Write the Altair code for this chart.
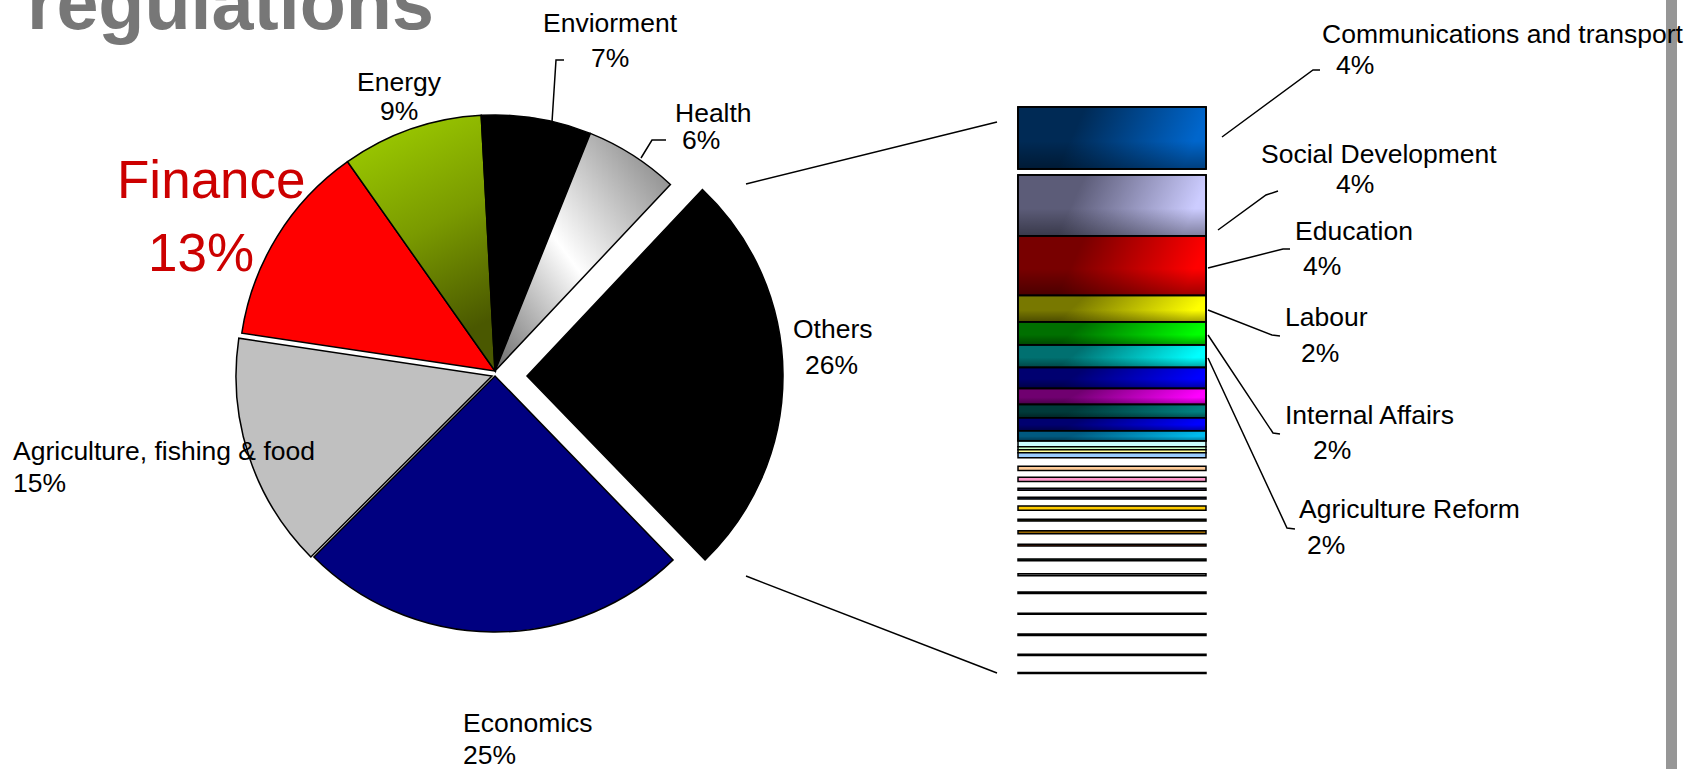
import math
import altair as alt
import pandas as pd

W, H = 1695, 769
FONT = "Liberation Sans"

# ---------------- data ----------------
pie_categories = ["Others", "Economics", "Agriculture, fishing & food", "Finance",
                  "Energy", "Enviorment", "Health"]
pie_values = [26, 25, 15, 13, 9, 7, 6]

bar_categories = ["Communications and transport", "Social Development", "Education", "Labour",
                  "Internal Affairs", "Agriculture Reform"] + [f"Other {i}" for i in range(1, 25)]
bar_values = [4.13, 4.07, 3.97, 1.77, 1.53, 1.5, 1.4, 1.07, 0.87, 0.87, 0.67, 0.4, 0.2, 0.2, 0.33,
              0.28, 0.28, 0.13, 0.13, 0.28, 0.12, 0.2, 0.12, 0.12, 0.13, 0.1, 0.07, 0.1, 0.07, 0.07]
bar_labelled = 6  # first six segments carry a label

# ---------------- styles / layout ----------------
# pie
PIE_START_DEG = 43.25
PIE_R = 256
pie_centers = {"Others": (527, 376), "Economics": (495, 376),
               "Agriculture, fishing & food": (492, 376), "Finance": (495, 371),
               "Energy": (495, 371), "Enviorment": (495, 371), "Health": (495, 371)}


def lin_grad(stops, x1=0, y1=0, x2=1, y2=0):
    return alt.Gradient(gradient="linear", x1=x1, y1=y1, x2=x2, y2=y2,
                        stops=[alt.GradientStop(color=c, offset=o) for o, c in stops])


pie_fills = {"Others": "#000000", "Economics": "#000080",
             "Agriculture, fishing & food": "#c0c0c0", "Finance": "#ff0000",
             "Energy": lin_grad([(0, "#a2d400"), (0.55, "#7a9a00"), (1, "#4a5800")], 0, 0, 0.3, 1),
             "Enviorment": "#000000",
             "Health": lin_grad([(0, "#6a6a6a"), (0.45, "#ffffff"), (1, "#7a7a7a")], 0, 1, 1, 0)}

# bar of pie
BAR_X0, BAR_X1 = 1018, 1206
BAR_TOP = 107
PX_PER_PCT = 15.0
bar_gap_px = [0, 6] + [0] * 13 + [8.5, 6.8, 6.8, 7, 7, 9, 9.6, 10.5, 13, 13, 16.3,
                                   19.75, 19.75, 18.75, 17]
bar_colors = ["#0066cc", "#ccccff", "#ff0000", "#ffff00", "#00ff00", "#00ffff", "#0000ff",
              "#ff00ff", "#008080", "#0000ff", "#00bbee", "#ccffff", "#ccffcc", "#ffff99",
              "#99ccff", "#ffcc99", "#ff99cc", "#4b3a6b", "#1f3a6b", "#ffcc00", "#333300",
              "#996600", "#993300", "#1f3f2f", "#8a8a8a", "#000033", "#000000", "#000000",
              "#000000", "#000000"]
bar_dark = ["#002a55", "#5c5c78", "#780000", "#787800", "#007000", "#007070", "#000070",
            "#700070", "#003a3a", "#000070", "#005a80"]

# label layout: (name x, name baseline, pct x, pct baseline)
pie_label_pos = {"Others": (793, 338, 805, 374), "Economics": (463, 732, 463, 764),
                 "Agriculture, fishing & food": (13, 460, 13, 492),
                 "Energy": (357, 91, 380, 120), "Enviorment": (543, 32, 591, 67),
                 "Health": (675, 122, 682, 149)}
finance_label_pos = (117, 198, 148, 271)
bar_label_pos = [(1322, 43, 1336, 74), (1261, 163, 1336, 193), (1295, 240, 1303, 275),
                 (1285, 326, 1301, 362), (1285, 424, 1313, 459), (1299, 518, 1307, 554)]

leader_lines = [
    [(552, 122), (556, 60), (564, 60)],
    [(641, 158), (652, 140), (666, 140)],
    [(1222, 137), (1313, 70), (1320, 70)],
    [(1218, 230), (1266, 195), (1278, 191)],
    [(1208, 268), (1283, 249), (1290, 249)],
    [(1208, 310), (1272, 335), (1280, 336)],
    [(1208, 335), (1273, 433), (1280, 434)],
    [(1208, 358), (1287, 528), (1295, 529)],
    [(746, 184), (997, 122)],
    [(746, 576), (997, 673)],
]

# ---------------- tables ----------------
pie_df = pd.DataFrame({"cat": pie_categories, "value": pie_values,
                       "order": list(range(len(pie_values)))})
pie_total = sum(pie_values)
start_rad = math.radians(PIE_START_DEG)
theta_scale = alt.Scale(domain=[0, pie_total], range=[start_rad, start_rad + 2 * math.pi])

rows = []
acc = 0.0
for i, (c, v) in enumerate(zip(bar_categories, bar_values)):
    acc += bar_gap_px[i] / PX_PER_PCT
    rows.append({"cat": c, "start": acc, "end": acc + v, "value": v, "color": bar_colors[i]})
    acc += v
bar_total = acc
bar_df = pd.DataFrame(rows)
y_bar = alt.Scale(domain=[0, bar_total], range=[BAR_TOP, BAR_TOP + bar_total * PX_PER_PCT],
                  nice=False, zero=False)

text_rows = []
for c, v in zip(pie_categories, pie_values):
    if c in pie_label_pos:
        nx, ny, px, py = pie_label_pos[c]
        text_rows.append({"t": c, "x": nx, "y": ny})
        text_rows.append({"t": f"{v}%", "x": px, "y": py})
for i in range(bar_labelled):
    nx, ny, px, py = bar_label_pos[i]
    text_rows.append({"t": bar_categories[i], "x": nx, "y": ny})
    text_rows.append({"t": f"{round(bar_values[i])}%", "x": px, "y": py})
text_df = pd.DataFrame(text_rows)

fin_i = pie_categories.index("Finance")
fx, fy, fpx, fpy = finance_label_pos
fin_df = pd.DataFrame([{"t": pie_categories[fin_i], "x": fx, "y": fy},
                       {"t": f"{pie_values[fin_i]}%", "x": fpx, "y": fpy}])

line_rows = []
for li, pts in enumerate(leader_lines):
    for pi, (px, py) in enumerate(pts):
        line_rows.append({"line": li, "i": pi, "px": px, "py": py})
line_df = pd.DataFrame(line_rows)

# ---------------- layers ----------------
layers = []

# decorative slide bar at right
layers.append(alt.Chart(pd.DataFrame({"a": [0]})).mark_rect(color="#969696").encode(
    x=alt.value(1666), x2=alt.value(1677), y=alt.value(0), y2=alt.value(H)))

# title fragment
layers.append(alt.Chart(pd.DataFrame({"t": ["regulations"], "x": [27], "y": [29]})).mark_text(
    font=FONT, fontSize=75.5, fontWeight="bold", color="#777777", align="left",
    baseline="alphabetic").encode(
    x=alt.X("x:Q", scale=None), y=alt.Y("y:Q", scale=None), text="t:N"))

# pie slices
pie_base = alt.Chart(pie_df).transform_window(
    cum="sum(value)", sort=[alt.SortField("order")], frame=[None, 0]
).transform_calculate(start="datum.cum - datum.value")
for c in pie_categories:
    cx, cy = pie_centers[c]
    layers.append(pie_base.transform_filter(alt.datum.cat == c).mark_arc(
        outerRadius=PIE_R, stroke="black", strokeWidth=1.5, fill=pie_fills[c]).encode(
        theta=alt.Theta("start:Q", scale=theta_scale, stack=None),
        theta2="cum:Q",
        x=alt.value(cx), y=alt.value(cy)))

# bar of pie: solid segments
bar_enc = dict(x=alt.value(BAR_X0), x2=alt.value(BAR_X1),
               y=alt.Y("start:Q", scale=y_bar, axis=None), y2="end:Q")
layers.append(alt.Chart(bar_df).mark_rect(stroke="black", strokeWidth=1.5).encode(
    fill=alt.Fill("color:N", scale=None), **bar_enc))
# gradient shading on the larger segments
for i, dark in enumerate(bar_dark):
    c = bar_categories[i]
    seg = alt.Chart(bar_df).transform_filter(alt.datum.cat == c)
    layers.append(seg.mark_rect(stroke="black", strokeWidth=1.5,
                                fill=lin_grad([(0, dark), (0.35, dark), (1, bar_colors[i])],
                                              0, 0, 1, 0.15)).encode(**bar_enc))
    layers.append(seg.mark_rect(stroke="black", strokeWidth=1.5,
                                fill=lin_grad([(0, "rgba(0,0,0,0)"), (0.55, "rgba(0,0,0,0)"),
                                               (1, "rgba(0,0,0,0.38)")], 0, 0, 0, 1)).encode(
        **bar_enc))

# leader & connector lines
layers.append(alt.Chart(line_df).mark_line(color="black", strokeWidth=1.5).encode(
    x=alt.X("px:Q", scale=None), y=alt.Y("py:Q", scale=None),
    detail="line:N", order="i:Q"))

# labels
layers.append(alt.Chart(text_df).mark_text(
    font=FONT, fontSize=26.5, color="black", align="left", baseline="alphabetic").encode(
    x=alt.X("x:Q", scale=None), y=alt.Y("y:Q", scale=None), text="t:N"))
layers.append(alt.Chart(fin_df).mark_text(
    font=FONT, fontSize=53, color="#cc0000", align="left", baseline="alphabetic").encode(
    x=alt.X("x:Q", scale=None), y=alt.Y("y:Q", scale=None), text="t:N"))

chart = alt.layer(*layers).resolve_scale(
    x="independent", y="independent"
).properties(
    width=W, height=H, padding=0, background="white",
    autosize=alt.AutoSizeParams(type="none")
).configure_view(stroke=None, strokeWidth=0)

chart.save("out.html", embed_options={"renderer": "svg", "actions": False})
